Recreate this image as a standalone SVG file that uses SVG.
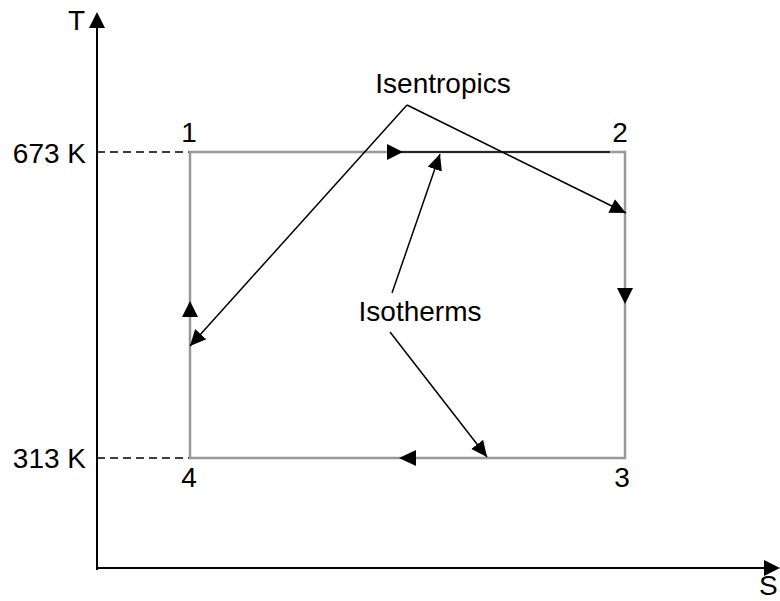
<svg xmlns="http://www.w3.org/2000/svg" width="780" height="601" viewBox="0 0 780 601">
<style>
text{font-family:"Liberation Sans",Arial,sans-serif;font-size:28px;fill:#000}
.ax{stroke:#000;stroke-width:2;fill:none}
.dash{stroke:#000;stroke-width:1.5;stroke-dasharray:8,5;fill:none}
.cyc{stroke:#999;stroke-width:2.5;fill:none}
.lead{stroke:#000;stroke-width:1.5;fill:none;marker-end:url(#ah)}
.head{fill:#000}
</style>
<defs>
<marker id="ah" markerUnits="userSpaceOnUse" markerWidth="17" markerHeight="16" refX="16" refY="7.5" orient="auto" viewBox="0 0 17 15">
<path d="M0,0 L16,7.5 L0,15 Z" fill="#000"/>
</marker>
</defs>
<g id="axes">
<line class="ax" x1="97" y1="26" x2="97" y2="570"/>
<polygon class="head" points="97,12 89,28 105,28"/>
<line class="ax" x1="96" y1="568" x2="766" y2="568"/>
<polygon class="head" points="780,568 764,560 764,576"/>
<text x="68" y="30">T</text>
<text x="759" y="595" font-size="26">S</text>
</g>
<g id="refs">
<line class="dash" x1="97" y1="152" x2="190" y2="152"/>
<line class="dash" x1="97" y1="458" x2="190" y2="458"/>
<text x="86" y="163" text-anchor="end">673 K</text>
<text x="86" y="468" text-anchor="end">313 K</text>
</g>
<g id="cycle">
<rect class="cyc" x="190" y="152" width="435" height="306"/>
<line x1="390" y1="152" x2="610" y2="152" stroke="#000" stroke-width="1.5"/>
<polygon class="head" points="403,152 387,144 387,160"/>
<polygon class="head" points="625,304 617,288 633,288"/>
<polygon class="head" points="399,458 416,450 416,466"/>
<polygon class="head" points="190,301 182,317 198,317"/>
</g>
<g id="point1"><text x="189" y="142" text-anchor="middle">1</text></g>
<g id="point2"><text x="620" y="142" text-anchor="middle">2</text></g>
<g id="point3"><text x="622" y="487" text-anchor="middle">3</text></g>
<g id="point4"><text x="189" y="487" text-anchor="middle">4</text></g>
<g id="isentropics"><text x="443" y="93" text-anchor="middle">Isentropics</text></g>
<g id="isotherms"><text x="420" y="321" text-anchor="middle">Isotherms</text></g>
<g id="connectors">
<polyline class="lead" points="407,105 190,346"/>
<polyline class="lead" points="407,105 626,213"/>
<polyline class="lead" points="392,293 440,154"/>
<polyline class="lead" points="390,332 487,457"/>
</g>
</svg>
